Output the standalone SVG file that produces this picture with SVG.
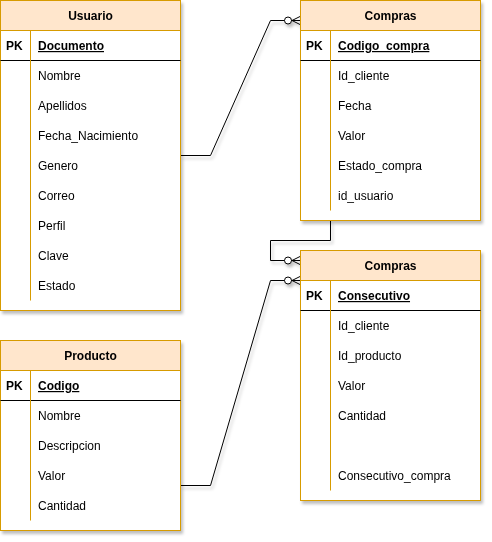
<svg xmlns="http://www.w3.org/2000/svg" width="492" height="542" viewBox="0 0 492 542">
<defs>
<filter id="sh" x="-10%" y="-10%" width="130%" height="130%">
<feDropShadow dx="2" dy="3" stdDeviation="1.5" flood-color="#000" flood-opacity="0.25"/>
</filter>
<marker id="zm" markerUnits="userSpaceOnUse" markerWidth="20" markerHeight="12" viewBox="0 0 20 12" refX="19" refY="6" orient="auto">
<circle cx="7" cy="6" r="3.5" fill="#fff" stroke="#000" stroke-width="1"/>
<path d="M10.5 6 H19 M11 6 L19 2 M11 6 L19 10" fill="none" stroke="#000" stroke-width="1"/>
</marker>
</defs>
<style>
.box{fill:#fff;stroke:#d79b00;stroke-width:1}
.hdr{fill:#ffe6cc;stroke:#d79b00;stroke-width:1}
.div{stroke:#d79b00;stroke-width:1}
.sep{stroke:#000;stroke-width:1}
text{font-family:"Liberation Sans",Arial,sans-serif;font-size:12px;fill:#000}
.t{font-weight:bold;text-anchor:middle}
.b{font-weight:bold}
.u{font-weight:bold;text-decoration:underline}
.conn{fill:none;stroke:#000;stroke-width:1}
</style>
<g filter="url(#sh)">
<g id="connectors">
<path class="conn" d="M180.5 155.5 H210.5 L270.5 20.5 H300" marker-end="url(#zm)"/>
<path class="conn" d="M330.5 220 V240.5 H270.5 V260.5 H300" marker-end="url(#zm)"/>
<path class="conn" d="M180.5 485.5 H210.5 L270.5 280.5 H300" marker-end="url(#zm)"/>
</g>
<g id="usuario">
<rect class="box" x="0.5" y="0.5" width="180" height="310"/>
<rect class="hdr" x="0.5" y="0.5" width="180" height="30"/>
<line class="sep" x1="0.5" y1="60.5" x2="180.5" y2="60.5"/>
<line class="div" x1="30.5" y1="30.5" x2="30.5" y2="300.5"/>
<text class="t" x="90.5" y="20">Usuario</text>
<text class="b" x="6" y="50">PK</text>
<text class="u" x="38" y="50">Documento</text>
<text x="38" y="80">Nombre</text>
<text x="38" y="110">Apellidos</text>
<text x="38" y="140">Fecha_Nacimiento</text>
<text x="38" y="170">Genero</text>
<text x="38" y="200">Correo</text>
<text x="38" y="230">Perfil</text>
<text x="38" y="260">Clave</text>
<text x="38" y="290">Estado</text>
</g>
<g id="compras">
<rect class="box" x="300.5" y="0.5" width="180" height="220"/>
<rect class="hdr" x="300.5" y="0.5" width="180" height="30"/>
<line class="sep" x1="300.5" y1="60.5" x2="480.5" y2="60.5"/>
<line class="div" x1="330.5" y1="30.5" x2="330.5" y2="210.5"/>
<text class="t" x="390.5" y="20">Compras</text>
<text class="b" x="306" y="50">PK</text>
<text class="u" x="338" y="50">Codigo_compra</text>
<text x="338" y="80">Id_cliente</text>
<text x="338" y="110">Fecha</text>
<text x="338" y="140">Valor</text>
<text x="338" y="170">Estado_compra</text>
<text x="338" y="200">id_usuario</text>
</g>
<g id="compras2">
<rect class="box" x="300.5" y="250.5" width="180" height="250"/>
<rect class="hdr" x="300.5" y="250.5" width="180" height="30"/>
<line class="sep" x1="300.5" y1="310.5" x2="480.5" y2="310.5"/>
<line class="div" x1="330.5" y1="280.5" x2="330.5" y2="490.5"/>
<text class="t" x="390.5" y="270">Compras</text>
<text class="b" x="306" y="300">PK</text>
<text class="u" x="338" y="300">Consecutivo</text>
<text x="338" y="330">Id_cliente</text>
<text x="338" y="360">Id_producto</text>
<text x="338" y="390">Valor</text>
<text x="338" y="420">Cantidad</text>
<text x="338" y="480">Consecutivo_compra</text>
</g>
<g id="producto">
<rect class="box" x="0.5" y="340.5" width="180" height="190"/>
<rect class="hdr" x="0.5" y="340.5" width="180" height="30"/>
<line class="sep" x1="0.5" y1="400.5" x2="180.5" y2="400.5"/>
<line class="div" x1="30.5" y1="370.5" x2="30.5" y2="520.5"/>
<text class="t" x="90.5" y="360">Producto</text>
<text class="b" x="6" y="390">PK</text>
<text class="u" x="38" y="390">Codigo</text>
<text x="38" y="420">Nombre</text>
<text x="38" y="450">Descripcion</text>
<text x="38" y="480">Valor</text>
<text x="38" y="510">Cantidad</text>
</g>
</g>
</svg>
